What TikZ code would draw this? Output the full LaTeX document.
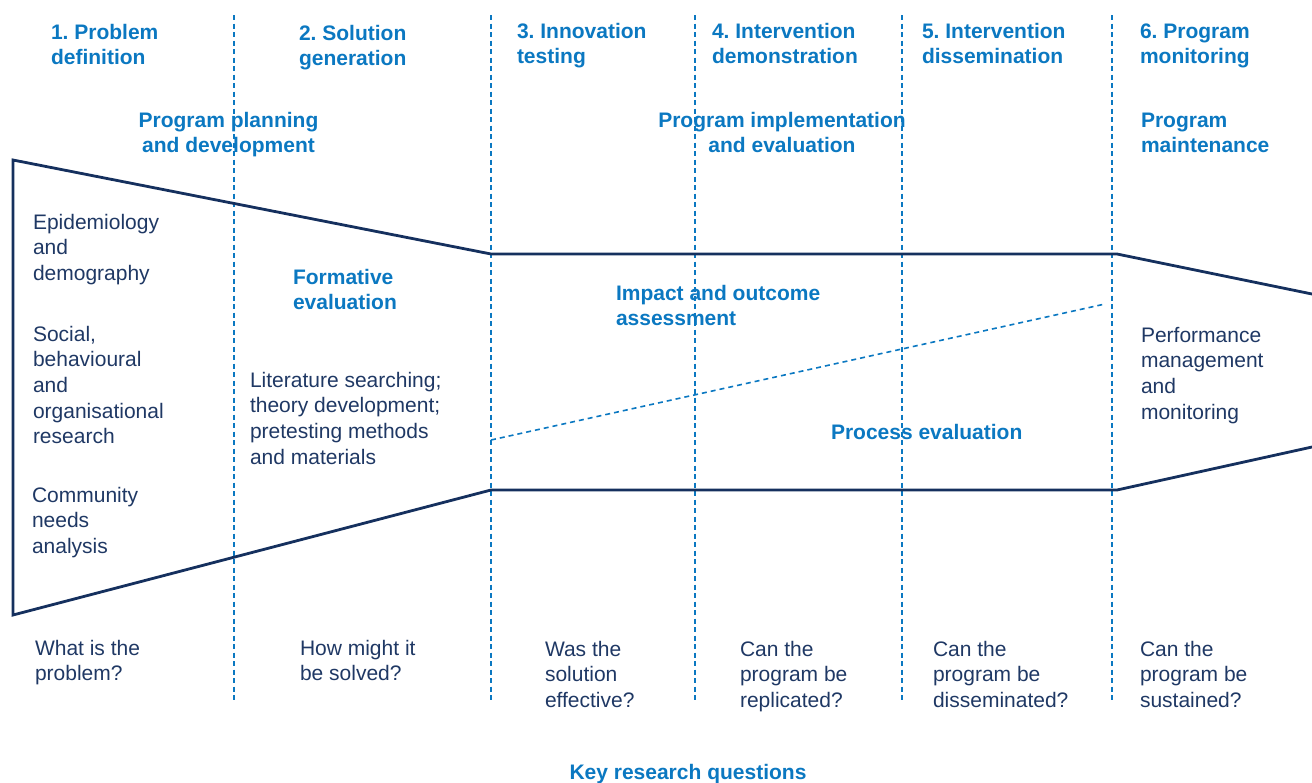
\documentclass[tikz,border=0pt]{standalone}
\usepackage{fontspec}
\setmainfont{Liberation Sans}
\frenchspacing
\definecolor{hdblue}{HTML}{0B78C1}
\definecolor{navytext}{HTML}{1F3864}
\definecolor{navyline}{HTML}{15305E}
\begin{document}
\begin{tikzpicture}[x=1pt,y=-1pt,
  txt/.style={inner sep=0pt, outer sep=0pt, align=left, anchor=base west,
    font=\fontsize{21}{25.7}\selectfont},
  body/.style={txt, text=navytext},
  head/.style={txt, text=hdblue, font=\fontsize{21}{25.7}\selectfont\bfseries},
  phase/.style={head, align=center, anchor=base},
  divider/.style={draw=hdblue, line width=1.1pt, dash pattern=on 5pt off 3.5pt},
  boundary/.style={draw=hdblue, line width=1.6pt, dash pattern=on 5pt off 4pt},
  funnel/.style={draw=navyline, line width=2.8pt, line join=miter},
]
\useasboundingbox (0,0) rectangle (1312,782);

% stage dividers
\foreach \xx/\nm in {234/d1, 491/d2, 695/d3, 902/d4, 1112/d5}{
  \coordinate (\nm top) at (\xx,15);
  \coordinate (\nm bot) at (\xx,700);
  \draw[divider] (\nm top) -- (\nm bot);
}

% research funnel
\coordinate (fTL) at (13,160);
\coordinate (fBL) at (13,615);
\coordinate (fT1) at (491,254);
\coordinate (fT2) at (1117,254);
\coordinate (fTR) at (1312,294);
\coordinate (fB1) at (491,490);
\coordinate (fB2) at (1117,490);
\coordinate (fBR) at (1312,447);
\draw[funnel] (fTR) -- (fT2) -- (fT1) -- (fTL) -- (fBL) -- (fB1) -- (fB2) -- (fBR);

% boundary between impact and process evaluation
\coordinate (ipL) at (491,440);
\coordinate (ipR) at (1105,304);
\draw[boundary] (ipL) -- (ipR);

% stage headings (node base = baseline of the last line)
\node[head] (s1) at (51,64.7) {1. Problem\\definition};
\node[head] (s2) at (299,65.7) {2. Solution\\generation};
\node[head] (s3) at (517,63.7) {3. Innovation\\testing};
\node[head] (s4) at (712,63.7) {4. Intervention\\demonstration};
\node[head] (s5) at (922,63.7) {5. Intervention\\dissemination};
\node[head] (s6) at (1140,63.7) {6. Program\\monitoring};

% program phases
\node[phase] (p1) at (228.5,152.7) {Program planning\\and development};
\node[phase] (p2) at (782,152.7) {Program implementation\\and evaluation};
\node[head] (p3) at (1141,152.7) {Program\\maintenance};

% research activities
\node[body] (a1) at (33,280.4) {Epidemiology\\and\\demography};
\node[body] (a2) at (33,443.8) {Social,\\behavioural\\and\\organisational\\research};
\node[body] (a3) at (32,553.4) {Community\\needs\\analysis};
\node[head] (fe) at (293,309.7) {Formative\\evaluation};
\node[body] (lit) at (250,464.1) {Literature searching;\\theory development;\\pretesting methods\\and materials};
\node[head] (imp) at (616,325.7) {Impact and outcome\\assessment};
\node[head] (proc) at (831,439) {Process evaluation};
\node[body] (perf) at (1141,419.1) {Performance\\management\\and\\monitoring};

% key research questions
\node[body] (q1) at (35,680.7) {What is the\\problem?};
\node[body] (q2) at (300,680.7) {How might it\\be solved?};
\node[body] (q3) at (545,707.4) {Was the\\solution\\effective?};
\node[body] (q4) at (740,707.4) {Can the\\program be\\replicated?};
\node[body] (q5) at (933,707.4) {Can the\\program be\\disseminated?};
\node[body] (q6) at (1140,707.4) {Can the\\program be\\sustained?};
\node[head, anchor=base] (krq) at (688,779) {Key research questions};
\end{tikzpicture}
\end{document}
